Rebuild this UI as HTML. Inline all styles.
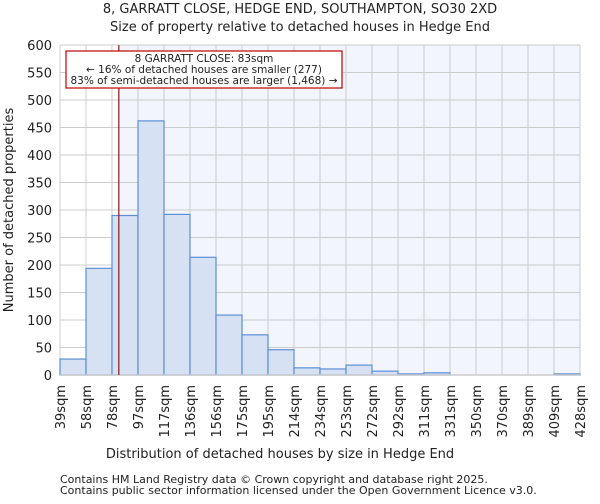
<!DOCTYPE html>
<html><head><meta charset="utf-8"><style>
body{margin:0;background:#fff;font-family:"DejaVu Sans","Liberation Sans",sans-serif;}
svg text{font-family:"DejaVu Sans","Liberation Sans",sans-serif;fill:#222;}
</style></head><body>
<svg id="chart" width="600" height="500" xmlns="http://www.w3.org/2000/svg">
<text x="300" y="13" font-size="13" text-anchor="middle">8, GARRATT CLOSE, HEDGE END, SOUTHAMPTON, SO30 2XD</text>
<text x="300" y="31" font-size="13" text-anchor="middle">Size of property relative to detached houses in Hedge End</text>
<g id="plot"></g>
<text x="280" y="458" font-size="13" text-anchor="middle">Distribution of detached houses by size in Hedge End</text>
<text transform="translate(13,210) rotate(-90)" font-size="13" text-anchor="middle">Number of detached properties</text>
<text x="60" y="483" font-size="11" fill="#555">Contains HM Land Registry data © Crown copyright and database right 2025.</text>
<text x="60" y="494" font-size="11" fill="#555">Contains public sector information licensed under the Open Government Licence v3.0.</text>
</svg>
<script>
const categories=["39sqm","58sqm","78sqm","97sqm","117sqm","136sqm","156sqm","175sqm","195sqm","214sqm","234sqm","253sqm","272sqm","292sqm","311sqm","331sqm","350sqm","370sqm","389sqm","409sqm","428sqm"];
const counts=[29,194,290,462,292,214,109,73,46,13,11,18,7,2,4,0,0,0,0,2];
const yTicks=[0,50,100,150,200,250,300,350,400,450,500,550,600];
const edgeMin=39, edgeMax=428, markerValue=83;
const X0=60,X1=580,Y0=375,Y1=45,YMAX=600;
const NS="http://www.w3.org/2000/svg";
const g=document.getElementById('plot');
const bw=(X1-X0)/counts.length;
const xv=v=>X0+(v-edgeMin)/(edgeMax-edgeMin)*(X1-X0);
const y=v=>Y0-v/YMAX*(Y0-Y1);
function mk(t,a){const e=document.createElementNS(NS,t);for(const k in a)e.setAttribute(k,a[k]);g.appendChild(e);return e;}
const mx=xv(markerValue);
let bg=mk('rect',{x:mx,y:Y1,width:X1-mx,height:Y0-Y1,fill:'#f2f5fc'});


yTicks.forEach(t=>{
 let l=mk('line',{x1:X0,x2:X1,y1:y(t),y2:y(t),stroke:'#ccc','stroke-width':1});
 
 
 let tx=mk('text',{x:X0-8,y:y(t)+5,'font-size':13,'text-anchor':'end'});tx.textContent=t;
 
 
});
categories.forEach((c,i)=>{
 const x=X0+i*bw;
 let l=mk('line',{x1:x,x2:x,y1:Y1,y2:Y0,stroke:'#ccc','stroke-width':1});
 
 
 let tx=mk('text',{transform:`translate(${x+5},${Y0+10}) rotate(-90)`,'font-size':13,'text-anchor':'end'});tx.textContent=c;
 
 
});
counts.forEach((v,i)=>{
 let r=mk('rect',{x:X0+i*bw,y:y(v),width:bw,height:Y0-y(v),fill:'#d6e1f4',stroke:'#5b8fd6','stroke-width':1.2});
 
 
});
let ax=mk('line',{x1:X0,x2:X1,y1:Y0,y2:Y0,stroke:'#ccc','stroke-width':1.5});


let ml=mk('line',{x1:mx,x2:mx,y1:Y1,y2:Y0,stroke:'#8b1a1a','stroke-width':1.2});


let box=mk('rect',{x:66,y:51,width:276,height:37,fill:'#fff',stroke:'#c00000','stroke-width':1.2});


["8 GARRATT CLOSE: 83sqm","← 16% of detached houses are smaller (277)","83% of semi-detached houses are larger (1,468) →"].forEach((s,i)=>{
 let t=mk('text',{x:204,y:62+i*11,'font-size':10.5,'text-anchor':'middle'});t.textContent=s;
 
 
});
</script>
</body></html>
